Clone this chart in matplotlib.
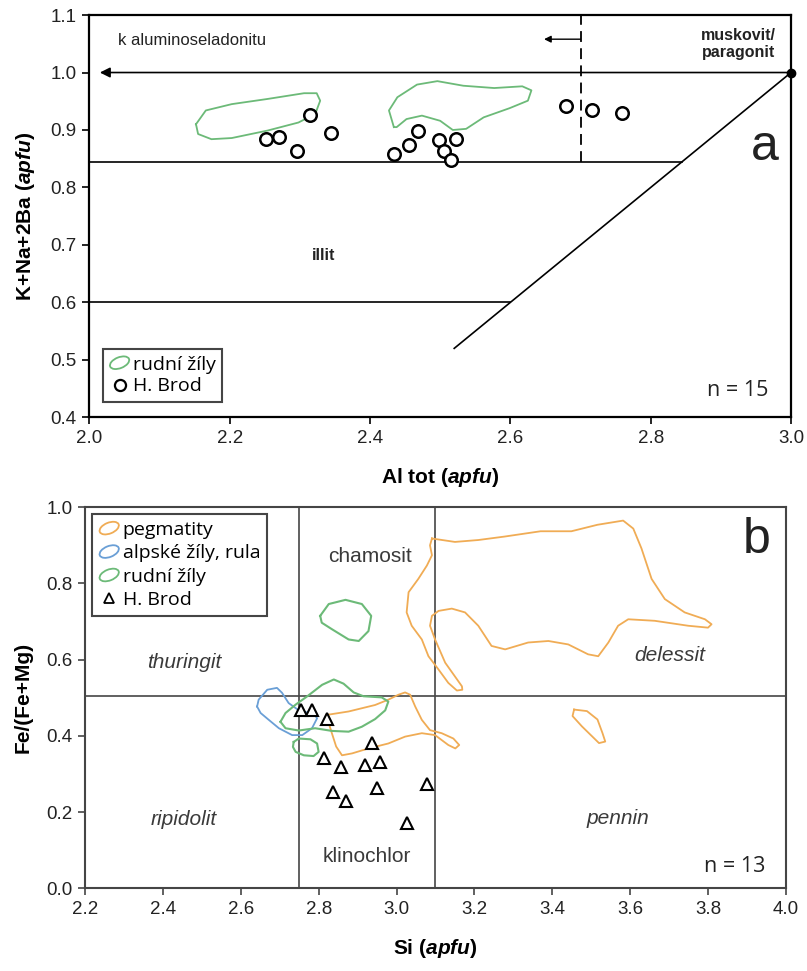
import numpy as np
import matplotlib
matplotlib.use('Agg')
import matplotlib.pyplot as plt
from matplotlib.patches import Ellipse
from matplotlib.legend_handler import HandlerPatch
from matplotlib.lines import Line2D

plt.rcParams['font.family'] = 'Liberation Sans'
plt.rcParams['mathtext.fontset'] = 'custom'
plt.rcParams['mathtext.it'] = 'Liberation Sans:italic:bold'
plt.rcParams['mathtext.rm'] = 'Liberation Sans:bold'
plt.rcParams['axes.linewidth'] = 1.6

# ---- panel a: mica, H. Brod ----
al_tot = [2.252, 2.271, 2.296, 2.315, 2.344, 2.434, 2.455, 2.468, 2.498, 2.505,
          2.515, 2.522, 2.680, 2.716, 2.759]
kna2ba = [0.885, 0.887, 0.863, 0.926, 0.895, 0.858, 0.874, 0.898, 0.882, 0.864,
          0.848, 0.884, 0.942, 0.935, 0.929]

# rudni zily fields (panel a)
mica_ore1_x = [2.152, 2.166, 2.203, 2.254, 2.306, 2.324, 2.329, 2.322, 2.298,
               2.254, 2.203, 2.174, 2.155]
mica_ore1_y = [0.910, 0.934, 0.945, 0.954, 0.964, 0.964, 0.951, 0.928, 0.913,
               0.899, 0.886, 0.884, 0.893]
mica_ore2_x = [2.434, 2.427, 2.439, 2.467, 2.496, 2.533, 2.577, 2.617, 2.630,
               2.625, 2.599, 2.562, 2.537, 2.518, 2.500, 2.474, 2.452, 2.438]
mica_ore2_y = [0.905, 0.934, 0.957, 0.979, 0.985, 0.977, 0.973, 0.976, 0.969,
               0.951, 0.938, 0.922, 0.902, 0.900, 0.916, 0.925, 0.919, 0.905]

# ---- panel b: chlorite, H. Brod ----
si = [2.755, 2.784, 2.822, 2.937, 2.814, 2.858, 2.920, 2.957, 2.838, 2.870,
      2.950, 3.079, 3.027]
fe_ratio = [0.469, 0.469, 0.444, 0.381, 0.341, 0.319, 0.324, 0.332, 0.253, 0.228,
            0.262, 0.273, 0.170]

# pegmatity fields
peg1_x = [3.091, 3.150, 3.210, 3.277, 3.370, 3.449, 3.516, 3.582, 3.608, 3.629,
          3.655, 3.689, 3.740, 3.792, 3.809, 3.800, 3.749, 3.663, 3.595, 3.569,
          3.544, 3.518, 3.492, 3.441, 3.390, 3.338, 3.279, 3.244, 3.210, 3.176,
          3.142, 3.108, 3.091, 3.086, 3.099, 3.125, 3.150, 3.168, 3.169, 3.155,
          3.133, 3.108, 3.082, 3.065, 3.039, 3.026, 3.031, 3.056, 3.078, 3.091,
          3.086]
peg1_y = [0.918, 0.909, 0.914, 0.923, 0.937, 0.937, 0.954, 0.965, 0.944, 0.892,
          0.812, 0.759, 0.724, 0.706, 0.693, 0.684, 0.689, 0.702, 0.706, 0.689,
          0.645, 0.609, 0.614, 0.640, 0.649, 0.645, 0.627, 0.636, 0.689, 0.724,
          0.734, 0.728, 0.715, 0.689, 0.653, 0.592, 0.556, 0.530, 0.521, 0.519,
          0.539, 0.574, 0.609, 0.653, 0.689, 0.724, 0.777, 0.812, 0.847, 0.874,
          0.900]
peg2_x = [2.821, 2.877, 2.945, 2.979, 3.005, 3.022, 3.035, 3.048, 3.065, 3.086,
          3.116, 3.146, 3.161, 3.151, 3.133, 3.099, 3.065, 3.022, 2.979, 2.928,
          2.886, 2.860, 2.845, 2.834, 2.826]
peg2_y = [0.455, 0.464, 0.481, 0.495, 0.508, 0.514, 0.508, 0.477, 0.442, 0.415,
          0.407, 0.393, 0.376, 0.367, 0.376, 0.402, 0.407, 0.398, 0.380, 0.367,
          0.354, 0.349, 0.372, 0.407, 0.433]
peg3_x = [3.456, 3.489, 3.516, 3.529, 3.536, 3.520, 3.502, 3.476, 3.452]
peg3_y = [0.469, 0.465, 0.443, 0.407, 0.385, 0.381, 0.399, 0.425, 0.452]

# alpske zily, rula
alp_x = [2.642, 2.646, 2.668, 2.693, 2.706, 2.723, 2.753, 2.787, 2.796, 2.783,
         2.758, 2.732, 2.698, 2.672, 2.651]
alp_y = [0.477, 0.495, 0.521, 0.526, 0.513, 0.486, 0.464, 0.460, 0.446, 0.420,
         0.402, 0.402, 0.420, 0.442, 0.460]

# rudni zily (panel b)
ore1_x = [2.804, 2.826, 2.869, 2.911, 2.935, 2.928, 2.903, 2.877, 2.834, 2.808]
ore1_y = [0.715, 0.746, 0.757, 0.746, 0.715, 0.675, 0.649, 0.653, 0.680, 0.697]
ore2_x = [2.702, 2.715, 2.741, 2.771, 2.809, 2.839, 2.864, 2.890, 2.915, 2.962,
          2.979, 2.971, 2.945, 2.911, 2.877, 2.834, 2.791, 2.749, 2.715]
ore2_y = [0.437, 0.460, 0.482, 0.504, 0.534, 0.548, 0.537, 0.514, 0.504, 0.501,
          0.490, 0.467, 0.444, 0.424, 0.411, 0.413, 0.420, 0.414, 0.420]
ore3_x = [2.736, 2.749, 2.779, 2.796, 2.800, 2.787, 2.762, 2.741, 2.734]
ore3_y = [0.384, 0.393, 0.391, 0.380, 0.358, 0.347, 0.349, 0.358, 0.371]

green = '#6cba78'
orange = '#f0ac55'
blue = '#6a9fd6'
gray = '#454545'


class HandlerEllipse(HandlerPatch):
    def create_artists(self, legend, orig_handle, xdescent, ydescent,
                       width, height, fontsize, trans):
        c = (0.5 * width - xdescent, 0.5 * height - ydescent)
        p = Ellipse(xy=c, width=width * 0.95, height=height * 0.8, angle=22,
                    fill=False, edgecolor=orig_handle.get_edgecolor(), lw=1.3)
        p.set_transform(trans)
        return [p]


def closed(x, y):
    return list(x) + [x[0]], list(y) + [y[0]]


fig = plt.figure(figsize=(8.07, 9.71), dpi=100)

# ================= panel a =================
ax1 = fig.add_axes([0.1107, 0.5702, 0.8695, 0.4143])
ax1.set_xlim(2.0, 3.0)
ax1.set_ylim(0.4, 1.1)

ax1.plot([2.0, 2.845], [0.845, 0.845], color='k', lw=1.2)
ax1.plot([2.0, 2.6], [0.6, 0.6], color='k', lw=1.2)
ax1.plot([2.52, 3.0], [0.52, 1.0], color='k', lw=1.2)
ax1.plot([2.7, 2.7], [0.845, 1.1], color='k', lw=1.3, ls=(0, (6, 3.5)))
ax1.annotate('', xy=(2.015, 1.0), xytext=(3.0, 1.0),
             arrowprops=dict(arrowstyle='-|>', color='k', lw=1.2,
                             mutation_scale=15, shrinkA=0, shrinkB=0))
ax1.annotate('', xy=(2.648, 1.058), xytext=(2.7, 1.058),
             arrowprops=dict(arrowstyle='-|>', color='k', lw=1.0,
                             mutation_scale=10, shrinkA=0, shrinkB=0))
ax1.plot([3.0], [1.0], 'o', color='k', ms=6, clip_on=False, zorder=5)

for fx, fy in [(mica_ore1_x, mica_ore1_y), (mica_ore2_x, mica_ore2_y)]:
    cx, cy = closed(fx, fy)
    ax1.plot(cx, cy, color=green, lw=1.3, solid_joinstyle='round')

ax1.plot(al_tot, kna2ba, 'o', ls='', mfc='white', mec='k', ms=9, mew=1.8, zorder=4)

ax1.text(2.041, 1.055, 'k aluminoseladonitu', fontsize=12, color='#222',
         ha='left', va='center')
ax1.text(2.925, 1.050, 'muskovit/\nparagonit', fontsize=11.5, fontweight='bold',
         color='#222', ha='center', va='center', linespacing=1.15)
ax1.text(2.334, 0.681, 'illit', fontsize=11.5, fontweight='bold', color='#222',
         ha='center', va='center')
ax1.text(2.962, 0.870, 'a', fontsize=36, color='#222', ha='center', va='center')
ax1.text(2.968, 0.447, 'n = 15', fontsize=15.5, family='Open Sans', color='#222',
         ha='right', va='center')

ax1.set_xticks(np.arange(2.0, 3.01, 0.2))
ax1.set_yticks(np.arange(0.4, 1.11, 0.1))
ax1.set_xticklabels(['%.1f' % v for v in np.arange(2.0, 3.01, 0.2)])
ax1.set_yticklabels(['%.1f' % v for v in np.arange(0.4, 1.11, 0.1)])
ax1.tick_params(direction='out', length=5, width=1.2, labelsize=13.5,
                labelcolor='#222', pad=4)
ax1.set_xlabel(r'Al tot ($\mathit{apfu}$)', fontsize=15, fontweight='bold',
               labelpad=14)
ax1.set_ylabel(r'K+Na+2Ba ($\mathit{apfu}$)', fontsize=15, fontweight='bold',
               labelpad=10)

h1 = [Ellipse((0, 0), 1, 1, fill=False, edgecolor=green),
      Line2D([], [], marker='o', ls='', mfc='none', mec='k', ms=8, mew=1.6)]
leg1 = ax1.legend(h1, ['rudní žíly', 'H. Brod'], loc='lower left',
                  bbox_to_anchor=(0.019, 0.039), borderaxespad=0,
                  handler_map={Ellipse: HandlerEllipse()},
                  prop={'family': 'Open Sans', 'size': 14}, fancybox=False,
                  edgecolor=gray, framealpha=1, handlelength=1.1,
                  handletextpad=0.15, labelspacing=0.2, borderpad=0.32)
leg1.get_frame().set_linewidth(1.5)

# ================= panel b =================
ax2 = fig.add_axes([0.1053, 0.0852, 0.8686, 0.3924])
ax2.set_xlim(2.2, 4.0)
ax2.set_ylim(0.0, 1.0)
for s in ax2.spines.values():
    s.set_color(gray)
    s.set_linewidth(1.5)

ax2.axvline(2.75, color=gray, lw=1.2)
ax2.axvline(3.1, color=gray, lw=1.2)
ax2.axhline(0.505, color=gray, lw=1.2)

for fx, fy in [(peg1_x, peg1_y), (peg2_x, peg2_y), (peg3_x, peg3_y)]:
    cx, cy = closed(fx, fy)
    ax2.plot(cx, cy, color=orange, lw=1.3, solid_joinstyle='round')
cx, cy = closed(alp_x, alp_y)
ax2.plot(cx, cy, color=blue, lw=1.3, solid_joinstyle='round')
for fx, fy in [(ore1_x, ore1_y), (ore2_x, ore2_y), (ore3_x, ore3_y)]:
    cx, cy = closed(fx, fy)
    ax2.plot(cx, cy, color=green, lw=1.5, solid_joinstyle='round')

ax2.plot(si, fe_ratio, '^', ls='', mfc='white', mec='k', ms=8, mew=1.5, zorder=4)

lab_col = '#3a3a3a'
ax2.text(2.931, 0.870, 'chamosit', fontsize=15, color=lab_col, ha='center', va='center')
ax2.text(2.454, 0.593, 'thuringit', fontsize=15, style='italic', color=lab_col,
         ha='center', va='center')
ax2.text(3.701, 0.610, 'delessit', fontsize=15, style='italic', color=lab_col,
         ha='center', va='center')
ax2.text(2.454, 0.180, 'ripidolit', fontsize=15, style='italic', color=lab_col,
         ha='center', va='center')
ax2.text(3.569, 0.183, 'pennin', fontsize=15, style='italic', color=lab_col,
         ha='center', va='center')
ax2.text(2.924, 0.083, 'klinochlor', fontsize=15, color=lab_col, ha='center',
         va='center')
ax2.text(3.926, 0.914, 'b', fontsize=36, color='#222', ha='center', va='center')
ax2.text(3.948, 0.058, 'n = 13', fontsize=15.5, family='Open Sans', color='#222',
         ha='right', va='center')

ax2.set_xticks(np.arange(2.2, 4.01, 0.2))
ax2.set_yticks(np.arange(0.0, 1.01, 0.2))
ax2.set_xticklabels(['%.1f' % v for v in np.arange(2.2, 4.01, 0.2)])
ax2.set_yticklabels(['%.1f' % v for v in np.arange(0.0, 1.01, 0.2)])
ax2.tick_params(direction='out', length=5, width=1.2, color=gray, labelsize=13.5,
                labelcolor='#222', pad=4)
ax2.set_xlabel(r'Si ($\mathit{apfu}$)', fontsize=15, fontweight='bold', labelpad=14)
ax2.set_ylabel('Fe/(Fe+Mg)', fontsize=15, fontweight='bold', labelpad=10)

h2 = [Ellipse((0, 0), 1, 1, fill=False, edgecolor=orange),
      Ellipse((0, 0), 1, 1, fill=False, edgecolor=blue),
      Ellipse((0, 0), 1, 1, fill=False, edgecolor=green),
      Line2D([], [], marker='^', ls='', mfc='none', mec='k', ms=7, mew=1.3)]
leg2 = ax2.legend(h2, ['pegmatity', 'alpské žíly, rula', 'rudní žíly', 'H. Brod'],
                  loc='upper left', bbox_to_anchor=(0.0096, 0.982), borderaxespad=0,
                  handler_map={Ellipse: HandlerEllipse()},
                  prop={'family': 'Open Sans', 'size': 14}, fancybox=False,
                  edgecolor=gray, framealpha=1, handlelength=1.1,
                  handletextpad=0.15, labelspacing=0.28, borderpad=0.35)
leg2.get_frame().set_linewidth(1.5)

fig.savefig('out.png', dpi=100)
